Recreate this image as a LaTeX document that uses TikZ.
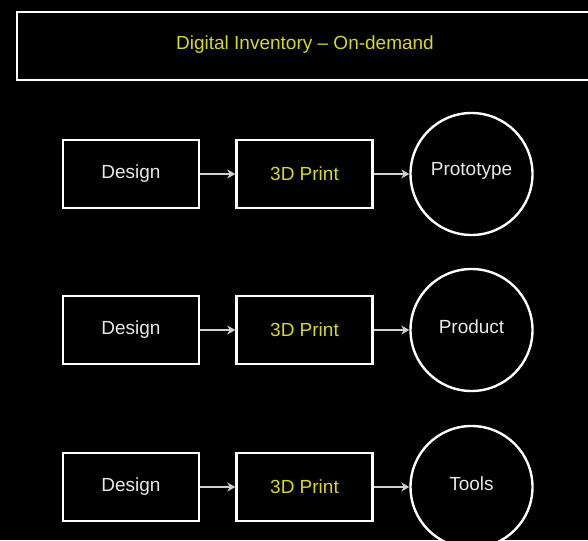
\documentclass[tikz,border=0pt]{standalone}
\usepackage{fontspec}
\setmainfont{Liberation Sans}
\usetikzlibrary{arrows.meta}
\definecolor{hilite}{HTML}{D8D820}
\definecolor{plain}{HTML}{E8E8E8}
\definecolor{wire}{HTML}{D0D0D0}
\tikzset{
  frame/.style={draw=white, line width=2.4pt, fill=black},
  label/.style={font=\fontsize{19}{21}\selectfont, text=plain},
  stepbox/.style={frame, label, minimum width=136pt, minimum height=68pt, inner sep=0pt},
  printbox/.style={stepbox, text=hilite},
  outcome/.style={frame, circle, minimum size=122pt, inner sep=0pt},
  flow/.style={draw=wire, line width=1.5pt, -{Stealth[length=8pt,width=9pt,inset=2.5pt]}},
}
\begin{document}
\begin{tikzpicture}[x=1pt, y=-1pt]
  \fill[black] (0,0) rectangle (588,540);
  \useasboundingbox (0,0) rectangle (588,540);
  % heading band, running past the right edge
  \node[frame, minimum width=590pt, minimum height=68pt, inner sep=0pt] (title) at (312,46) {};
  \node[label, text=hilite] (heading) at (305,45) {Digital Inventory – On-demand};
  % three production lines
  \foreach \r/\yy/\res in {a/174/Prototype, b/330/Product, c/487/Tools} {
    \node[stepbox] (d\r) at (131,\yy) {Design};
    \node[printbox] (p\r) at (304.5,\yy) {3D Print};
    \node[outcome] (o\r) at (471.5,\yy) {};
    \node[label] (t\r) at (471.5,\yy-3) {\res};
    \draw[flow] (d\r) -- (p\r);
    \draw[flow] (p\r) -- (o\r);
  }
\end{tikzpicture}
\end{document}
